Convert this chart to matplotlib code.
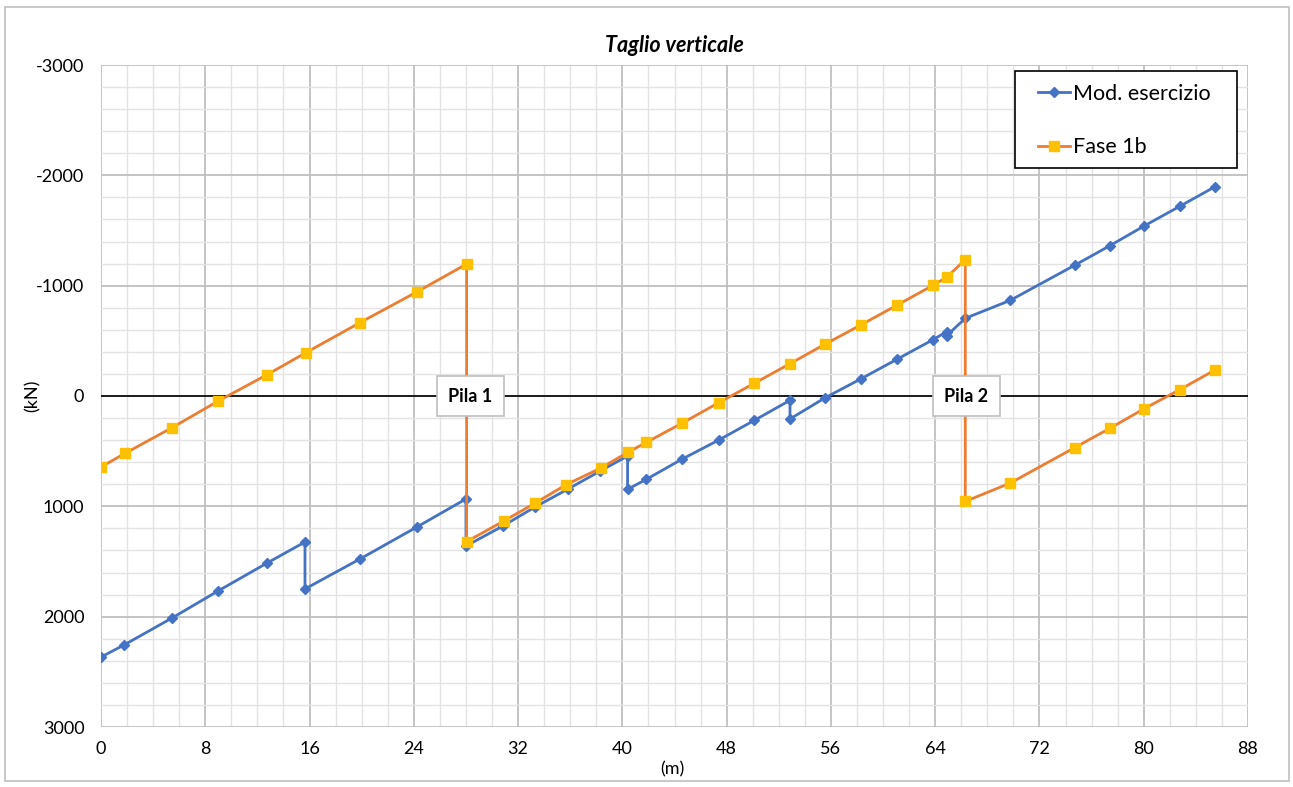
import matplotlib.pyplot as plt
from matplotlib.ticker import MultipleLocator
from matplotlib.patches import Rectangle

plt.rcParams['font.family'] = ['Lato', 'DejaVu Sans']
plt.rcParams['axes.unicode_minus'] = False

# Mod. esercizio (blue)
x_eser = [0, 1.76, 5.45, 8.98, 12.74, 15.65, 15.65, 19.87, 24.24, 28.0, 28.0,
          30.84, 33.3, 35.83, 38.3, 40.4, 40.4, 41.84, 44.6, 47.4, 50.12,
          52.86, 52.86, 55.57, 58.33, 61.1, 63.83, 64.88, 64.88, 66.31,
          69.76, 74.7, 77.4, 80.03, 82.76, 85.47]
v_eser = [2366, 2257, 2012, 1767, 1514, 1323, 1749, 1477, 1187, 933, 1360,
          1178, 1006, 843, 680, 544, 846, 755, 571, 399, 221,
          39, 208, 15, -157, -335, -510, -583, -547, -704,
          -867, -1185, -1362, -1541, -1719, -1897]

# Fase 1b (orange)
x_fase = [0, 1.84, 5.45, 9.0, 12.74, 15.72, 19.87, 24.27, 28.05, 28.05,
          30.9, 33.32, 35.7, 38.34, 40.46, 41.84, 44.6, 47.4, 50.12, 52.86,
          55.57, 58.33, 61.1, 63.83, 64.88, 66.31, 66.31,
          69.76, 74.7, 77.4, 80.03, 82.76, 85.47]
v_fase = [643, 520, 287, 45, -193, -393, -665, -946, -1196, 1320,
          1133, 970, 803, 653, 508, 420, 245, 60, -115, -293,
          -471, -646, -825, -1003, -1076, -1236, 955,
          789, 468, 293, 115, -57, -236]

pile_x = [28.35, 66.4]
pile_lab = ["Pila 1", "Pila 2"]

fig = plt.figure(figsize=(12.93, 7.87), dpi=100)
ax = fig.add_axes([101/1293, 1 - 727/787, 1147/1293, 662/787])

ax.set_xlim(0, 88)
ax.set_ylim(3000, -3000)
ax.xaxis.set_major_locator(MultipleLocator(8))
ax.xaxis.set_minor_locator(MultipleLocator(2))
ax.yaxis.set_major_locator(MultipleLocator(1000))
ax.yaxis.set_minor_locator(MultipleLocator(200))
ax.grid(which='major', color='#bfbfbf', lw=1.3, zorder=0)
ax.grid(which='minor', color='#e3e3e3', lw=1.0, zorder=0)
ax.set_axisbelow(True)
for s in ax.spines.values():
    s.set_visible(False)
ax.tick_params(which='both', length=0)
ax.tick_params(axis='y', pad=12, labelsize=13)
ax.tick_params(axis='x', pad=10, labelsize=13)
ax.axhline(0, color='black', lw=1.2, zorder=1)

ax.plot(x_eser, v_eser, color='#4472C4', lw=2, marker='D', ms=5.5,
        mfc='#4472C4', mec='#4472C4', label='Mod. esercizio', zorder=3)
ax.plot(x_fase, v_fase, color='#ED7D31', lw=2, marker='s', ms=7.5,
        mfc='#FFC000', mec='#FFC000', label='Fase 1b', zorder=4)

for px, lab in zip(pile_x, pile_lab):
    ax.text(px, 0, lab, ha='center', va='center', fontsize=13, fontweight='bold',
            zorder=5,
            bbox=dict(boxstyle='square,pad=0.65', fc='white', ec='#bfbfbf', lw=1.2))

ax.set_title('Taglio verticale', fontsize=15.5, fontweight='bold', style='italic', pad=9)
ax.set_xlabel('(m)', fontsize=13)
ax.xaxis.set_label_coords(0.498, -0.052)
ax.set_ylabel('(kN)', fontsize=13)
ax.yaxis.set_label_coords(-0.053, 0.5)

# legend box drawn separately so the side padding can be wider than the top one
box = Rectangle((1015/1293, 1 - 168/787), 222/1293, 97/787, transform=fig.transFigure,
                fc='white', ec='black', lw=1.2, zorder=6, clip_on=False)
ax.add_patch(box)
leg = ax.legend(loc='upper right', bbox_to_anchor=(1224/1293, 1 - 71/787),
                bbox_transform=fig.transFigure, fontsize=15.5, frameon=False,
                handlelength=1.5, handletextpad=0.15,
                labelspacing=1.55, borderpad=0.6, borderaxespad=0)
leg.set_zorder(7)

fig.patches.append(Rectangle((5/1293, 6/787), 1284/1293, 774/787, transform=fig.transFigure,
                             fill=False, ec='#bfbfbf', lw=1.2))

fig.savefig('out.png', dpi=100)
